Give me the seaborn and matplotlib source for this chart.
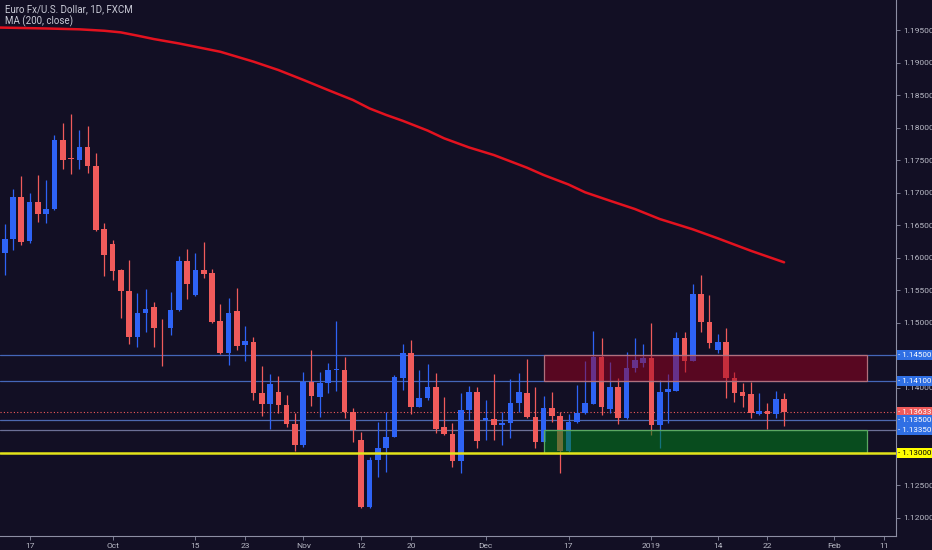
import numpy as np
import pandas as pd
import matplotlib
matplotlib.use("Agg")
import matplotlib.pyplot as plt
from matplotlib.patches import Rectangle
import seaborn as sns

# =====================================
# Data (EUR/USD daily, FXCM)
# =====================================
opens = [1.16076, 1.16291, 1.16937, 1.16261, 1.16860, 1.16676, 1.16753, 1.17814, 1.17537, 1.17506,
         1.17706, 1.17414, 1.16445, 1.16214, 1.15815, 1.15492, 1.14784, 1.15153, 1.15245, 1.14930,
         1.14923, 1.15199, 1.15953, 1.15430, 1.15815, 1.15768, 1.15030, 1.14538, 1.15184, 1.14661,
         1.14707, 1.13923, 1.13754, 1.13938, 1.13738, 1.13446, 1.13123, 1.14092, 1.13861, 1.14077,
         1.14277, 1.14277, 1.13631, 1.13200, 1.12169, 1.12892, 1.13077, 1.13246, 1.14154, 1.14538,
         1.13707, 1.13846, 1.14015, 1.13400, 1.13292, 1.12877, 1.13661, 1.13938, 1.13508, 1.13523,
         1.13431, 1.13461, 1.13769, 1.13923, 1.13554, 1.13169, 1.13692, 1.13569, 1.13031, 1.13477,
         1.13615, 1.13754, 1.14476, 1.13677, 1.14015, 1.13538, 1.14307, 1.14384, 1.14461, 1.13431,
         1.13938, 1.13954, 1.14769, 1.14415, 1.15445, 1.15015, 1.14584, 1.14707, 1.14154, 1.13938,
         1.13907, 1.13600, 1.13646, 1.13600, 1.13831]

highs = [1.16522, 1.17060, 1.17260, 1.16999, 1.17276, 1.17199, 1.17891, 1.18075, 1.18214, 1.17968,
         1.18029, 1.17614, 1.16537, 1.16276, 1.15830, 1.15968, 1.15461, 1.15522, 1.15322, 1.15061,
         1.15476, 1.16030, 1.16138, 1.16076, 1.16245, 1.15830, 1.15292, 1.15384, 1.15538, 1.14953,
         1.14784, 1.14338, 1.14215, 1.14184, 1.13892, 1.13615, 1.14246, 1.14584, 1.14246, 1.14384,
         1.15030, 1.14476, 1.13692, 1.13323, 1.12938, 1.13477, 1.13631, 1.14200, 1.14676, 1.14738,
         1.14277, 1.14369, 1.14230, 1.13861, 1.13461, 1.13923, 1.14030, 1.14015, 1.13815, 1.14215,
         1.13631, 1.14138, 1.14230, 1.14446, 1.14015, 1.13877, 1.13938, 1.13631, 1.13600, 1.14046,
         1.14415, 1.14876, 1.14769, 1.14400, 1.14154, 1.14553, 1.14769, 1.14676, 1.15000, 1.14123,
         1.14215, 1.14861, 1.14861, 1.15599, 1.15738, 1.15430, 1.14830, 1.14923, 1.14246, 1.14077,
         1.14092, 1.13923, 1.13769, 1.13954, 1.13923]

lows = [1.15738, 1.16122, 1.16199, 1.16230, 1.16553, 1.16537, 1.16737, 1.17368, 1.17291, 1.17368,
        1.17306, 1.16420, 1.15722, 1.15661, 1.15076, 1.14676, 1.14630, 1.14861, 1.14630, 1.14338,
        1.14815, 1.15190, 1.15369, 1.15420, 1.15692, 1.15000, 1.14523, 1.14353, 1.14584, 1.14415,
        1.13815, 1.13569, 1.13369, 1.13615, 1.13400, 1.13031, 1.13092, 1.13723, 1.13554, 1.13923,
        1.13954, 1.13538, 1.13169, 1.12160, 1.12160, 1.12631, 1.12708, 1.13240, 1.13969, 1.13600,
        1.13700, 1.13815, 1.13308, 1.13277, 1.12785, 1.12692, 1.13508, 1.13077, 1.13200, 1.13200,
        1.13123, 1.13231, 1.13631, 1.13538, 1.13077, 1.13160, 1.13477, 1.12692, 1.13020, 1.13461,
        1.13600, 1.13750, 1.13584, 1.13615, 1.13446, 1.13530, 1.14246, 1.14323, 1.13277, 1.13077,
        1.13461, 1.13950, 1.14246, 1.14410, 1.14861, 1.14615, 1.14538, 1.13846, 1.13784, 1.13707,
        1.13538, 1.13585, 1.13369, 1.13538, 1.13415]

closes = [1.16291, 1.16937, 1.16245, 1.16860, 1.16676, 1.16753, 1.17814, 1.17506, 1.17522, 1.17706,
          1.17414, 1.16430, 1.16045, 1.15799, 1.15492, 1.14784, 1.15153, 1.15215, 1.14923, 1.14915,
          1.15199, 1.15953, 1.15599, 1.15815, 1.15753, 1.15015, 1.14538, 1.15153, 1.14646, 1.14723,
          1.13923, 1.13754, 1.14061, 1.13738, 1.13446, 1.13123, 1.14092, 1.13877, 1.14077, 1.14277,
          1.14285, 1.13631, 1.13354, 1.12169, 1.12892, 1.13077, 1.13246, 1.14169, 1.14538, 1.13707,
          1.13846, 1.14015, 1.13369, 1.13292, 1.12877, 1.13661, 1.13938, 1.13185, 1.13531, 1.13431,
          1.13461, 1.13769, 1.13938, 1.13554, 1.13169, 1.13692, 1.13569, 1.13031, 1.13477, 1.13615,
          1.13769, 1.14476, 1.13707, 1.14015, 1.13538, 1.14307, 1.14430, 1.14461, 1.13431, 1.13938,
          1.13984, 1.14769, 1.14415, 1.15445, 1.15015, 1.14692, 1.14707, 1.14154, 1.13923, 1.13877,
          1.13615, 1.13646, 1.13600, 1.13831, 1.13633]

# MA(200, close) read at a few bars
ma_bar = [-1, 5, 9, 12, 14, 16, 18, 21, 23, 26, 30, 33, 36, 39, 42, 44, 46, 48, 51, 53,
          56, 59, 63, 65, 68, 70, 73, 76, 79, 83, 86, 90, 94]
ma_val = [1.19545, 1.19530, 1.19517, 1.19495, 1.19470, 1.19420, 1.19367, 1.19300, 1.19249, 1.19172,
          1.19020, 1.18891, 1.18740, 1.18583, 1.18430, 1.18300, 1.18200, 1.18110, 1.17960, 1.17840,
          1.17700, 1.17583, 1.17388, 1.17276, 1.17130, 1.17010, 1.16880, 1.16753, 1.16599, 1.16440,
          1.16302, 1.16110, 1.15933]

# date ticks (bar positions, weekends skipped)
tick_bars = [3, 13, 23, 29, 36, 43, 49, 58, 68, 78, 86, 92, 100, 106]
tick_names = ["17", "Oct", "15", "23", "Nov", "12", "20", "Dec", "17", "2019", "14", "22", "Feb", "11"]

# levels / zones
levels = [1.1450, 1.1410, 1.1350, 1.1335]
support = 1.1300
last_price = 1.13633
zone_bars = [65, 104]
resist_zone = [1.1410, 1.1450]
support_zone = [1.1300, 1.1335]

# =====================================
# Style
# =====================================
bg = "#120f24"
up_col = "#2e63f5"
dn_col = "#f05b5b"
txt_col = "#b9bac6"
axis_col = "#8d8ea3"

sns.set_style("dark", {"axes.facecolor": bg, "figure.facecolor": bg,
                       "axes.edgecolor": axis_col, "grid.color": bg})
plt.rcParams["font.family"] = ["Roboto", "DejaVu Sans"]

df = pd.DataFrame({"open": opens, "high": highs, "low": lows, "close": closes})
df["bar"] = np.arange(len(df))
df["up"] = df["close"] >= df["open"]
df["color"] = np.where(df["up"], up_col, dn_col)
df["body_lo"] = df[["open", "close"]].min(axis=1)
df["body_h"] = (df["close"] - df["open"]).abs().clip(lower=0.00008)

fig = plt.figure(figsize=(9.32, 5.5), dpi=100)
ax = fig.add_axes([0, 14 / 550, 896 / 932, 536 / 550])
ax.set_xlim(-0.57, 107.5)
ax.set_ylim(1.11723, 1.19968)

# horizontal levels
line_cols = ["#4466b8", "#4466b8", "#4d68b0", "#6c7096"]
for lv, c in zip(levels, line_cols):
    ax.axhline(lv, color=c, lw=0.9, zorder=1)
ax.axhline(last_price, color=dn_col, lw=0.8, ls=(0, (1, 2)), zorder=1)

# candles
ax.vlines(df["bar"], df["low"], df["high"], colors=df["color"], lw=0.9, zorder=2)
ax.bar(df["bar"], df["body_h"], bottom=df["body_lo"], width=0.68,
       color=df["color"], edgecolor="none", zorder=3)

# MA 200
ma = pd.DataFrame({"bar": ma_bar, "ma": ma_val})
sns.lineplot(data=ma, x="bar", y="ma", color="#e3121f", lw=1.8, ax=ax, zorder=4)

# zones
ax.add_patch(Rectangle((zone_bars[0], resist_zone[0]), zone_bars[1] - zone_bars[0],
                       resist_zone[1] - resist_zone[0], facecolor=(0.62, 0.0, 0.12, 0.5),
                       edgecolor="#b0707c", lw=0.9, zorder=5))
ax.add_patch(Rectangle((zone_bars[0], support_zone[0]), zone_bars[1] - zone_bars[0],
                       support_zone[1] - support_zone[0], facecolor=(0.0, 0.5, 0.1, 0.55),
                       edgecolor="#5aa862", lw=0.9, zorder=5))
ax.axhline(support, color="#e3e31a", lw=1.8, zorder=6)

# axes
ax.set_xlabel("")
ax.set_ylabel("")
ax.grid(False)
for s in ["left", "top"]:
    ax.spines[s].set_visible(False)
ax.spines["right"].set_color(axis_col)
ax.spines["bottom"].set_color(axis_col)
ax.yaxis.tick_right()
yt = np.round(np.arange(1.12, 1.1951, 0.005), 3)
tagged = [1.145, 1.135, 1.13]   # these sit under the price tags
ax.set_yticks(yt)
ax.set_yticklabels(["" if v in tagged else "%.5f" % v for v in yt])
ax.set_xticks(tick_bars)
ax.set_xticklabels(tick_names)
ax.tick_params(axis="y", colors=axis_col, labelcolor=txt_col, labelsize=6,
               length=3, width=0.6, pad=2, right=True, left=False)
ax.tick_params(axis="x", colors=axis_col, labelcolor=txt_col, labelsize=6,
               length=3, width=0.6, pad=2, bottom=True)

# price labels on the axis
tags = [(1.1450, "#2f6fe4", "white"), (1.1410, "#2f6fe4", "white"),
        (last_price, dn_col, "white"), (1.1350, "#2f6fe4", "white"),
        (1.1335, "#2f6fe4", "white"), (support, "#ffff00", "black")]
fig.canvas.draw()
for price, fc, tc in tags:
    y = ax.transData.transform((0, price))[1] / fig.bbox.height
    fig.add_artist(Rectangle((897 / 932, y - 5 / 550), 35 / 932, 10 / 550,
                             transform=fig.transFigure, facecolor=fc, edgecolor="none", zorder=10))
    fig.text(898 / 932, y, "- %.5f" % price, color=tc, fontsize=5.8, va="center", ha="left", zorder=11)

# header
fig.text(5 / 932, 1 - 9 / 550, "Euro Fx/U.S. Dollar, 1D, FXCM", color="#c9cad6", fontsize=7, va="center")
fig.text(5 / 932, 1 - 21 / 550, "MA (200, close)", color="#c9cad6", fontsize=7, va="center")

fig.savefig("out.png", dpi=100, facecolor=bg)
